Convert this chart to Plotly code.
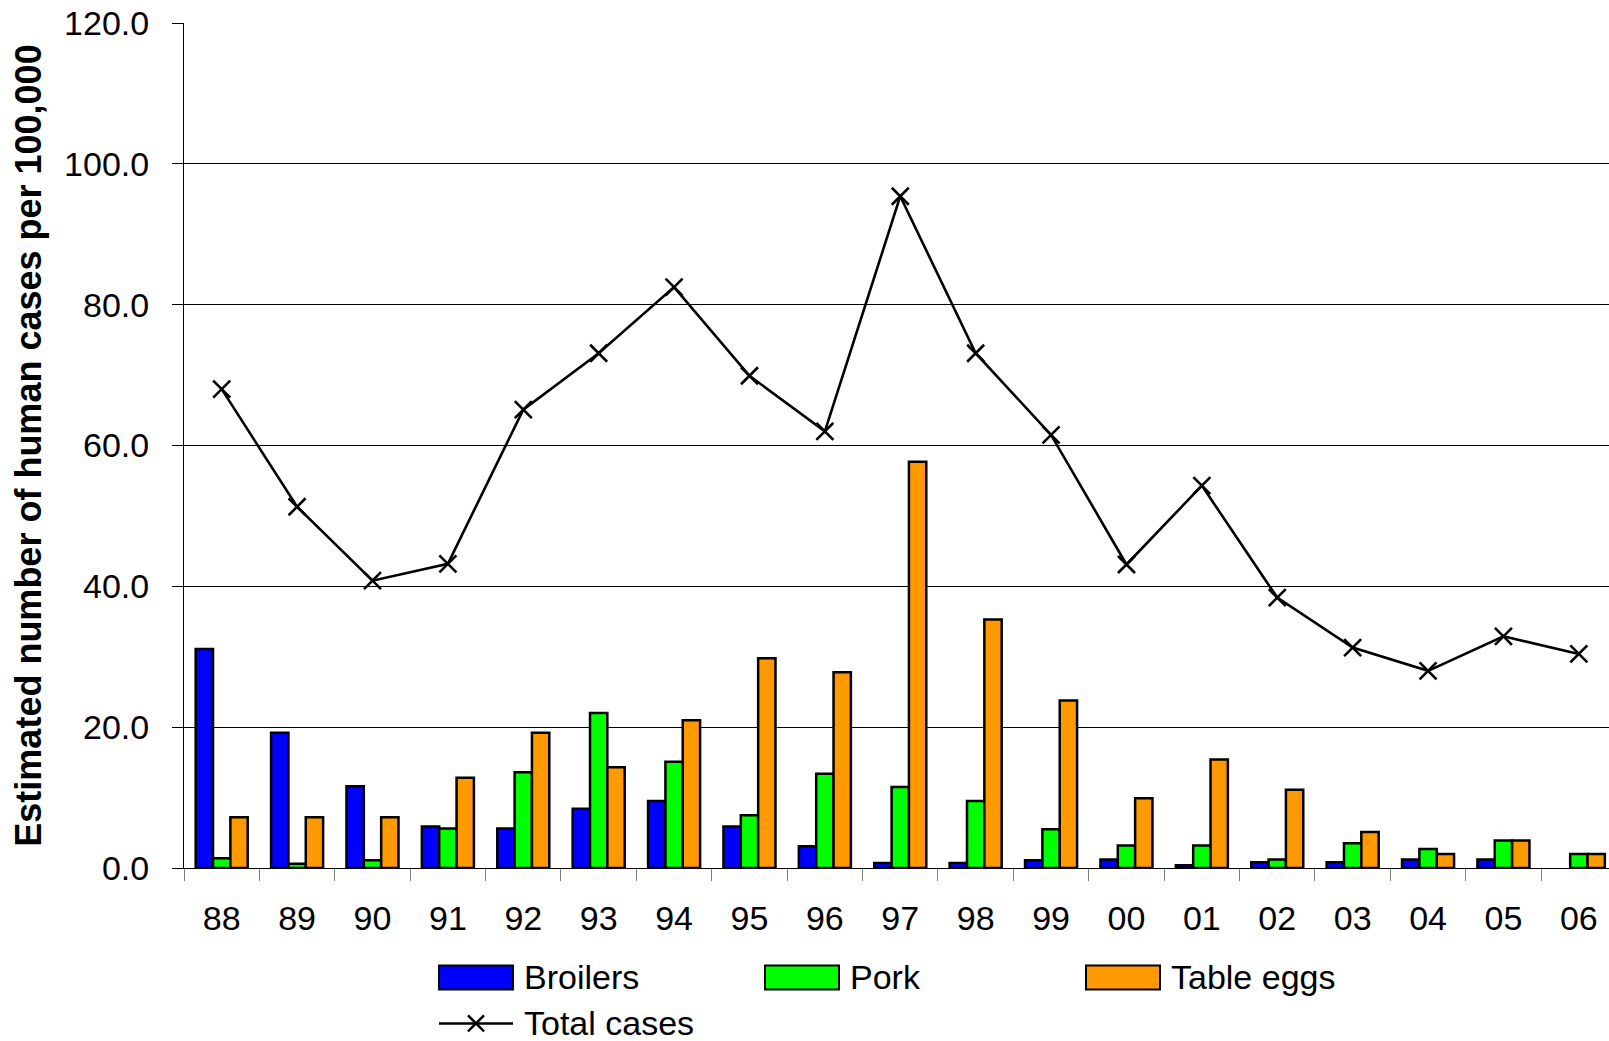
import plotly.graph_objects as go

# ---- data ----
years = ["88", "89", "90", "91", "92", "93", "94", "95", "96", "97",
         "98", "99", "00", "01", "02", "03", "04", "05", "06"]
broilers = [31.1, 19.2, 11.6, 5.9, 5.6, 8.4, 9.5, 5.9, 3.1, 0.7,
            0.7, 1.1, 1.2, 0.4, 0.8, 0.8, 1.2, 1.2, None]
pork = [1.4, 0.6, 1.1, 5.6, 13.6, 22.0, 15.1, 7.5, 13.4, 11.5,
        9.5, 5.5, 3.2, 3.2, 1.2, 3.5, 2.7, 3.9, 2.0]
table_eggs = [7.2, 7.2, 7.2, 12.8, 19.2, 14.3, 21.0, 29.8, 27.8, 57.7,
              35.3, 23.8, 9.9, 15.4, 11.1, 5.1, 2.0, 3.9, 2.0]
total_cases = [68.0, 51.3, 40.8, 43.2, 65.1, 73.1, 82.5, 69.9, 62.0, 95.4,
               73.1, 61.5, 43.1, 54.3, 38.4, 31.3, 28.0, 32.9, 30.4]
series_names = ["Broilers", "Pork", "Table eggs", "Total cases"]
y_title = "Estimated number of human cases per 100,000"

# ---- style ----
W, H = 1609, 1041
ML, MR, MT, MB = 184, 0, 23, 172.5
colors = ["#0000FF", "#00FF00", "#FF9900"]
FONT = "Arial, Liberation Sans, sans-serif"

fig = go.Figure()
for name, vals, col in zip(series_names[:3], [broilers, pork, table_eggs], colors):
    fig.add_trace(go.Bar(x=years, y=vals, name=name, marker_color=col,
                         marker_line_color="black", marker_line_width=2.5))
fig.add_trace(go.Scatter(x=years, y=total_cases, name=series_names[3],
                         mode="lines+markers",
                         line=dict(color="black", width=2.6),
                         marker=dict(symbol="x-thin", size=17,
                                     line=dict(color="black", width=2.6))))

fig.update_layout(
    width=W, height=H,
    margin=dict(l=ML, r=MR, t=MT, b=MB),
    plot_bgcolor="white", paper_bgcolor="white",
    barmode="group", bargap=0.31, bargroupgap=0,
    showlegend=False,
    font=dict(family=FONT, color="black", size=34),
)
fig.update_yaxes(
    range=[0, 120], tick0=0, dtick=20, tickformat=".1f",
    showgrid=True, gridcolor="black", gridwidth=1,
    showline=True, linecolor="black", linewidth=1,
    ticks="outside", ticklen=11, tickcolor="black",
    tickfont=dict(size=34), ticklabelstandoff=16,
    zeroline=False,
    title=dict(text=y_title, font=dict(size=36, weight="bold"), standoff=11),
    automargin=False,
)
fig.update_xaxes(
    type="category", range=[-0.5, len(years) - 0.6], showgrid=False,
    showline=True, linecolor="black", linewidth=1,
    ticks="outside", tickson="boundaries", ticklen=12, tickcolor="#808080",
    tickfont=dict(size=34), ticklabelstandoff=20,
    automargin=False,
)

# ---- manual legend ----
pw, ph = W - ML - MR, H - MT - MB


def px(x):
    return (x - ML) / pw


def py(y):
    return (H - MB - y) / ph


legend_items = [(series_names[0], colors[0], 439, 966),
                (series_names[1], colors[1], 765, 966),
                (series_names[2], colors[2], 1086, 966)]
for name, col, x0, y0 in legend_items:
    fig.add_shape(type="rect", xref="paper", yref="paper",
                  x0=px(x0), x1=px(x0 + 74), y0=py(y0), y1=py(y0 + 24),
                  fillcolor=col, line=dict(color="black", width=2))
    fig.add_annotation(xref="paper", yref="paper", x=px(x0 + 83), y=py(y0 + 12),
                       text=name, showarrow=False, xanchor="left", yanchor="middle",
                       font=dict(size=34, family=FONT, color="black"))
# Total cases legend entry
ly = 1024
fig.add_shape(type="line", xref="paper", yref="paper",
              x0=px(439), x1=px(513), y0=py(ly), y1=py(ly),
              line=dict(color="black", width=2.5))
for dx, dy in [(-8, -8), (-8, 8)]:
    fig.add_shape(type="line", xref="paper", yref="paper",
                  x0=px(476 + dx), x1=px(476 - dx), y0=py(ly + dy), y1=py(ly - dy),
                  line=dict(color="black", width=2.5))
fig.add_annotation(xref="paper", yref="paper", x=px(522), y=py(ly),
                   text=series_names[3], showarrow=False, xanchor="left", yanchor="middle",
                   font=dict(size=34, family=FONT, color="black"))

fig.write_html("out.html", config={"displayModeBar": False},
               post_script="document.body.style.margin='0';")
